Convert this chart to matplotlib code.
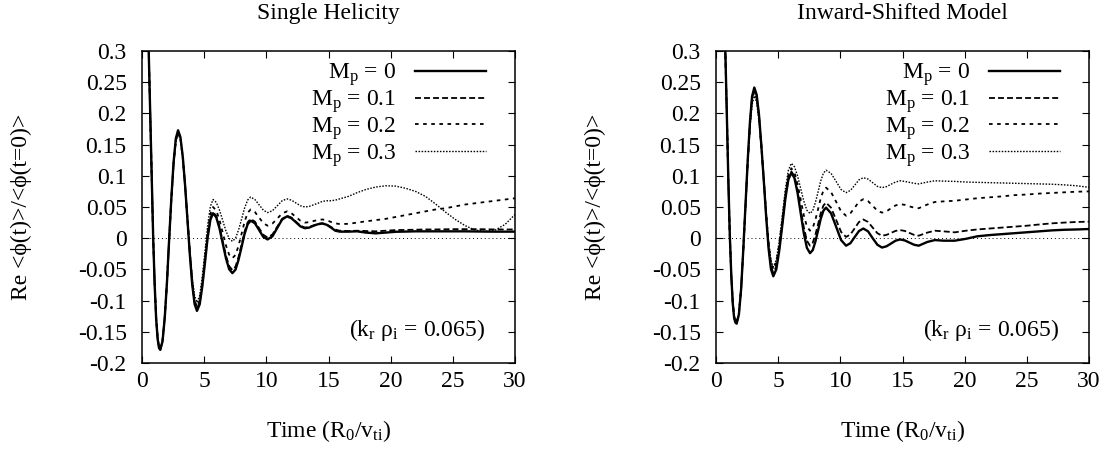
import numpy as np
import matplotlib.pyplot as plt

plt.rcParams['font.family'] = ['Liberation Serif', 'DejaVu Serif']
plt.rcParams['mathtext.fontset'] = 'custom'
plt.rcParams['mathtext.rm'] = 'Liberation Serif'
plt.rcParams['mathtext.it'] = 'Liberation Serif:italic'

# ---- data ----
mach = ['0', '0.1', '0.2', '0.3']

# Single Helicity panel
t_sh = [0, 0.2, 0.4, 0.54, 0.66, 0.78, 0.9, 1.02, 1.14, 1.26, 1.37, 1.47,
        1.65, 1.83, 2.01, 2.18, 2.36, 2.54, 2.72, 2.9,
        3.09, 3.28, 3.47, 3.66, 3.85, 4.04, 4.23, 4.42,
        4.64, 4.85, 5.07, 5.28, 5.5, 5.71,
        5.97, 6.23, 6.49, 6.75, 7.01, 7.27,
        7.52, 7.76, 8.01, 8.25, 8.5, 8.74,
        9.08, 9.42, 9.76, 10.1,
        10.49, 10.88, 11.27, 11.66, 12.02, 12.38, 12.74, 13.1, 13.45, 13.8, 14.15, 14.5,
        14.85, 15.2, 15.55, 15.9,
        16.6, 17.3, 18.0, 18.8, 19.6, 20.4, 21.2, 22.0, 22.8, 23.6, 24.4, 25.2, 26.0,
        26.8, 27.6, 28.4, 29.2, 30.0]

sh_m0 = [1.0, 0.75, 0.45, 0.30, 0.20, 0.10, 0.0, -0.075, -0.130, -0.162, -0.176, -0.179,
         -0.1656, -0.1276, -0.0702, -0.003, 0.0642, 0.1216, 0.1596, 0.173,
         0.162, 0.1307, 0.0835, 0.0282, -0.027, -0.0742, -0.1055, -0.1165,
         -0.106, -0.0774, -0.0382, 0.0009, 0.0295, 0.040,
         0.0336, 0.016, -0.008, -0.032, -0.0496, -0.056,
         -0.0504, -0.035, -0.014, 0.007, 0.0224, 0.028,
         0.024, 0.013, 0.002, -0.002,
         0.003, 0.0165, 0.030, 0.035, 0.032, 0.0255, 0.019, 0.016, 0.017, 0.020, 0.0224,
         0.0235, 0.0216, 0.017, 0.012, 0.0105,
         0.0105, 0.011, 0.009, 0.0078, 0.009, 0.0103, 0.0106, 0.011, 0.011, 0.011, 0.011,
         0.011, 0.011, 0.0108, 0.0106, 0.0105, 0.0105, 0.0105]
sh_m1 = [1.0, 0.75, 0.45, 0.30, 0.20, 0.10, 0.0, -0.075, -0.129, -0.161, -0.175, -0.178,
         -0.1647, -0.127, -0.0702, -0.0035, 0.0632, 0.120, 0.1577, 0.171,
         0.1602, 0.1295, 0.0832, 0.029, -0.0252, -0.0715, -0.1022, -0.113,
         -0.1026, -0.0742, -0.0355, 0.0033, 0.0316, 0.042,
         0.0358, 0.0187, -0.0045, -0.0278, -0.0448, -0.051,
         -0.0455, -0.0305, -0.010, 0.0105, 0.0255, 0.031,
         0.0266, 0.016, 0.0054, 0.001,
         0.006, 0.0185, 0.031, 0.036, 0.033, 0.0265, 0.020, 0.017, 0.018, 0.0205, 0.023,
         0.024, 0.022, 0.018, 0.0138, 0.012,
         0.0115, 0.012, 0.0115, 0.011, 0.012, 0.013, 0.0133, 0.0136, 0.014, 0.014, 0.0143,
         0.0145, 0.0145, 0.0145, 0.0143, 0.014, 0.014, 0.014]
sh_m2 = [1.0, 0.75, 0.45, 0.30, 0.20, 0.10, 0.0, -0.074, -0.128, -0.160, -0.174, -0.177,
         -0.1638, -0.1263, -0.0698, -0.0035, 0.0628, 0.1193, 0.1568, 0.170,
         0.1594, 0.1291, 0.0835, 0.030, -0.0235, -0.0691, -0.0994, -0.110,
         -0.0993, -0.070, -0.030, 0.010, 0.0393, 0.050,
         0.0445, 0.0295, 0.009, -0.0115, -0.0265, -0.032,
         -0.0268, -0.0125, 0.007, 0.0265, 0.0408, 0.046,
         0.042, 0.033, 0.024, 0.020,
         0.0234, 0.0315, 0.0396, 0.043, 0.040, 0.034, 0.028, 0.025, 0.0257, 0.0275, 0.0293,
         0.030, 0.029, 0.026, 0.0238, 0.0227,
         0.023, 0.025, 0.027, 0.029, 0.031, 0.034, 0.037, 0.040, 0.043, 0.046, 0.048,
         0.051, 0.054, 0.056, 0.058, 0.060, 0.062, 0.064]
sh_m3 = [1.0, 0.75, 0.45, 0.30, 0.20, 0.10, 0.0, -0.074, -0.127, -0.159, -0.173, -0.176,
         -0.1629, -0.1258, -0.0697, -0.004, 0.0617, 0.1178, 0.1549, 0.168,
         0.1577, 0.1284, 0.0843, 0.0325, -0.0193, -0.0634, -0.0927, -0.103,
         -0.0919, -0.0617, -0.0205, 0.0208, 0.0509, 0.062,
         0.0575, 0.0452, 0.0285, 0.0117, -0.0005, -0.005,
         -0.0002, 0.0128, 0.0305, 0.0483, 0.0612, 0.066,
         0.062, 0.0535, 0.045, 0.041,
         0.044, 0.052, 0.060, 0.063, 0.061, 0.0565, 0.052, 0.050, 0.051, 0.0535, 0.056,
         0.059, 0.060, 0.060, 0.061, 0.063,
         0.067, 0.073, 0.078, 0.082, 0.084, 0.0835, 0.080, 0.075, 0.067, 0.055, 0.042,
         0.030, 0.020, 0.013, 0.011, 0.013, 0.022, 0.038]

# Inward-Shifted panel
t_is = [0, 0.25, 0.5, 0.75, 0.87, 0.99, 1.11, 1.23, 1.35, 1.46, 1.56, 1.66,
        1.84, 2.02, 2.19, 2.37, 2.55, 2.73, 2.9, 3.08,
        3.27, 3.46, 3.65, 3.85, 4.04, 4.23, 4.42, 4.61,
        4.85, 5.09, 5.34, 5.58, 5.82, 6.06,
        6.31, 6.56, 6.81, 7.06, 7.31, 7.56,
        7.78, 7.99, 8.21, 8.42, 8.64, 8.85,
        9.25, 9.66, 10.06, 10.46,
        10.81, 11.16, 11.5, 11.85, 12.23, 12.6, 12.98, 13.35, 13.71, 14.08, 14.44, 14.8,
        15.18, 15.55, 15.93, 16.3,
        17.0, 17.6, 18.3, 19.2, 20.1, 21.0, 22.0, 23.0, 24.0, 25.0, 26.0, 27.0, 28.0,
        29.0, 30.0]

is_m0 = [1.0, 0.78, 0.52, 0.30, 0.20, 0.095, 0.005, -0.06, -0.105, -0.128, -0.135, -0.137,
         -0.1226, -0.0817, -0.020, 0.0523, 0.1245, 0.1862, 0.2271, 0.2415,
         0.230, 0.1973, 0.148, 0.0902, 0.0325, -0.0168, -0.0495, -0.061,
         -0.0499, -0.0195, 0.022, 0.0635, 0.0939, 0.105,
         0.0964, 0.0727, 0.0405, 0.0082, -0.0154, -0.024,
         -0.0191, -0.0057, 0.0125, 0.0308, 0.0441, 0.049,
         0.040, 0.0185, -0.003, -0.012,
         -0.008, 0.002, 0.0115, 0.0155, 0.011, 0.000, -0.0105, -0.015, -0.013, -0.0085,
         -0.004, -0.002, -0.0035, -0.007, -0.0105, -0.012,
         -0.006, -0.003, -0.004, -0.004, -0.001, 0.003, 0.005, 0.0065, 0.008, 0.0095,
         0.011, 0.0125, 0.0135, 0.014, 0.0147]
is_m1 = [1.0, 0.78, 0.52, 0.30, 0.20, 0.095, 0.005, -0.06, -0.104, -0.127, -0.134, -0.136,
         -0.1217, -0.0812, -0.0201, 0.0515, 0.1231, 0.1843, 0.2248, 0.239,
         0.2278, 0.1959, 0.1478, 0.0915, 0.0352, -0.0129, -0.0448, -0.056,
         -0.0451, -0.0152, 0.0255, 0.0663, 0.0961, 0.107,
         0.099, 0.0772, 0.0475, 0.0177, -0.004, -0.012,
         -0.0074, 0.0053, 0.0225, 0.0398, 0.0524, 0.057,
         0.049, 0.0295, 0.010, 0.002,
         0.006, 0.016, 0.026, 0.030, 0.026, 0.017, 0.008, 0.004, 0.0053, 0.0085, 0.0117,
         0.013, 0.0117, 0.0085, 0.0053, 0.004,
         0.009, 0.012, 0.011, 0.0094, 0.012, 0.014, 0.0155, 0.017, 0.0185, 0.020, 0.022,
         0.0238, 0.025, 0.026, 0.0265]
is_m2 = [1.0, 0.78, 0.52, 0.30, 0.20, 0.095, 0.005, -0.059, -0.103, -0.126, -0.133, -0.135,
         -0.1209, -0.081, -0.0207, 0.050, 0.1207, 0.181, 0.2209, 0.235,
         0.2242, 0.1934, 0.1469, 0.0925, 0.0381, -0.0084, -0.0392, -0.050,
         -0.0391, -0.0095, 0.031, 0.0715, 0.1011, 0.112,
         0.1053, 0.087, 0.062, 0.037, 0.0187, 0.012,
         0.0166, 0.0293, 0.0465, 0.0638, 0.0764, 0.081,
         0.074, 0.0585, 0.043, 0.036,
         0.040, 0.049, 0.0586, 0.0625, 0.0594, 0.052, 0.044, 0.041, 0.043, 0.048, 0.0525,
         0.0545, 0.0535, 0.051, 0.049, 0.048,
         0.054, 0.058, 0.059, 0.060, 0.062, 0.064, 0.0655, 0.067, 0.069, 0.070, 0.0715,
         0.0725, 0.0735, 0.0745, 0.075]
is_m3 = [1.0, 0.78, 0.52, 0.30, 0.20, 0.095, 0.005, -0.058, -0.101, -0.124, -0.131, -0.133,
         -0.1193, -0.0803, -0.0215, 0.0475, 0.1165, 0.1753, 0.2143, 0.228,
         0.2176, 0.188, 0.1433, 0.091, 0.0387, -0.006, -0.0356, -0.046,
         -0.0349, -0.0045, 0.037, 0.0785, 0.1089, 0.120,
         0.1146, 0.0999, 0.0797, 0.0596, 0.0449, 0.0395,
         0.0442, 0.0569, 0.0743, 0.0916, 0.1043, 0.109,
         0.104, 0.091, 0.078, 0.073,
         0.0765, 0.085, 0.0935, 0.097, 0.0947, 0.089, 0.083, 0.081, 0.0826, 0.0865, 0.090,
         0.092, 0.091, 0.0895, 0.088, 0.087,
         0.090, 0.092, 0.0915, 0.091, 0.090, 0.0895, 0.089, 0.0885, 0.088, 0.0875, 0.087,
         0.0865, 0.0855, 0.084, 0.0815]

styles = [dict(lw=1.7, ls='-'),
          dict(lw=1.3, ls=(0, (3.3, 1.7))),
          dict(lw=1.3, ls=(0, (2.0, 2.5))),
          dict(lw=1.0, ls=(0, (1.1, 1.1)))]


def panel(ax, t, series, title):
    ax.axhline(0, color='k', lw=0.7, ls=(0, (1, 3)))
    for m, y, st in zip(mach, series, styles):
        ax.plot(t, y, color='k', label=r'M$_\mathrm{p}$ = ' + m, **st)
    ax.set_xlim(0, 30)
    ax.set_ylim(-0.2, 0.3)
    ax.set_xticks(np.arange(0, 31, 5))
    ax.set_yticks(np.arange(-0.2, 0.301, 0.05))
    ax.set_yticklabels(['-0.2', '-0.15', '-0.1', '-0.05', '0', '0.05', '0.1', '0.15',
                        '0.2', '0.25', '0.3'])
    ax.tick_params(direction='in', top=True, right=True, length=5, width=0.8,
                   labelsize=17)
    ax.tick_params(axis='y', pad=11)
    ax.tick_params(axis='x', pad=6)
    for s in ax.spines.values():
        s.set_linewidth(1.1)
    ax.set_title(title, fontsize=17, pad=23)
    ax.set_xlabel(r'Time (R$_0$/v$_\mathrm{ti}$)', fontsize=17)
    ax.xaxis.set_label_coords(0.5, -0.175)
    ax.set_ylabel('Re <ϕ(t)>/<ϕ(t=0)>', fontsize=17)
    ax.yaxis.set_label_coords(-0.295, 0.5)
    ax.text(0.92, 0.085, r'(k$_\mathrm{r}$ ρ$_\mathrm{i}$ = 0.065)', transform=ax.transAxes,
            ha='right', va='baseline', fontsize=17)
    ax.legend(loc='upper right', bbox_to_anchor=(0.951, 1.0), markerfirst=False,
              frameon=False, fontsize=17, handlelength=3.0, handletextpad=0.8,
              labelspacing=0.0, borderaxespad=0.05)


fig = plt.figure(figsize=(11.13, 4.5), dpi=100)
ax1 = fig.add_axes([142 / 1113, 87 / 450, 373 / 1113, 312 / 450])
ax2 = fig.add_axes([716 / 1113, 87 / 450, 373 / 1113, 312 / 450])

panel(ax1, t_sh, [sh_m0, sh_m1, sh_m2, sh_m3], 'Single Helicity')
panel(ax2, t_is, [is_m0, is_m1, is_m2, is_m3], 'Inward-Shifted Model')

fig.savefig('out.png', dpi=100)
